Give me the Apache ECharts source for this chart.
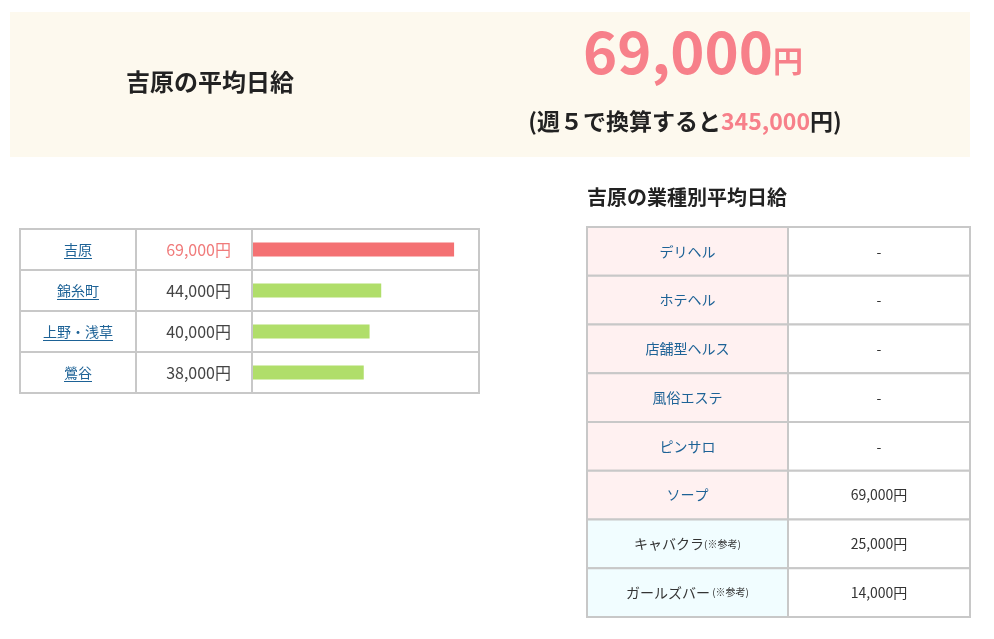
<!DOCTYPE html>
<html>
<head>
<meta charset="utf-8">
<script src="https://cdn.jsdelivr.net/npm/echarts@6/dist/echarts.min.js"></script>
<style>
  html, body { margin: 0; padding: 0; background: #fff; }
  #main { width: 994px; height: 639px; }
</style>
</head>
<body>
<div id="main"></div>
<script>
var areas = ['吉原', '錦糸町', '上野・浅草', '鶯谷'];
var areaPay = [69000, 44000, 40000, 38000];
var areaColors = ['#f47173', '#b0de6a', '#b0de6a', '#b0de6a'];

var jobs = ['デリヘル', 'ホテヘル', '店舗型ヘルス', '風俗エステ', 'ピンサロ', 'ソープ', 'キャバクラ', 'ガールズバー'];
var jobNotes = ['', '', '', '', '', '', '(※参考)', ' (※参考)'];
var jobPay = ['-', '-', '-', '-', '-', '69,000円', '25,000円', '14,000円'];

var FONT = '"Noto Sans CJK JP", sans-serif';
var BORDER = '#c8c8c8';
var LINK = '#1d6296';

function yen(v) { return v.toLocaleString('en-US') + '円'; }

var g = [];
// header banner
g.push({ type: 'rect', shape: { x: 10, y: 12, width: 960, height: 145 }, style: { fill: '#fdf9ee' } });
g.push({ type: 'text', x: 210, y: 82, style: { text: '吉原の平均日給', font: 'bold 24px ' + FONT, fill: '#222', align: 'center', verticalAlign: 'middle' } });
g.push({ type: 'text', x: 693, y: 52, style: {
  text: '{a|69,000}{b|円}', align: 'center', verticalAlign: 'middle',
  rich: { a: { font: 'bold 58px ' + FONT, fill: '#f7808a' }, b: { font: 'bold 30px ' + FONT, fill: '#f7808a', padding: [18, 0, 0, 0] } }
} });
g.push({ type: 'text', x: 685, y: 121, style: {
  text: '{n|(週５で換算すると}{p|345,000}{n|円)}', align: 'center', verticalAlign: 'middle',
  rich: { n: { font: 'bold 23px ' + FONT, fill: '#222' }, p: { font: 'bold 23px ' + FONT, fill: '#f7808a' } }
} });

// left table
var lx = [20, 136, 252, 479], ly0 = 229, lh = 41;
areas.forEach(function (a, i) {
  var y = ly0 + i * lh, cy = y + lh / 2;
  g.push({ type: 'rect', shape: { x: lx[0], y: y, width: lx[3] - lx[0], height: lh }, style: { fill: '#fff', stroke: BORDER, lineWidth: 2 }, z: 0 });
  g.push({ type: 'line', shape: { x1: lx[1], y1: y, x2: lx[1], y2: y + lh }, style: { stroke: BORDER, lineWidth: 2 } });
  g.push({ type: 'line', shape: { x1: lx[2], y1: y, x2: lx[2], y2: y + lh }, style: { stroke: BORDER, lineWidth: 2 } });
  g.push({ type: 'text', x: 78, y: cy, style: { text: a, font: '14px ' + FONT, fill: LINK, align: 'center', verticalAlign: 'middle' } });
  var w = a.length * 14;
  g.push({ type: 'line', shape: { x1: 78 - w / 2, y1: cy + 9, x2: 78 + w / 2, y2: cy + 9 }, style: { stroke: LINK, lineWidth: 1 } });
  g.push({ type: 'text', x: 231, y: cy, style: { text: yen(areaPay[i]), font: '16px ' + FONT, fill: i === 0 ? '#f07a7a' : '#444', align: 'right', verticalAlign: 'middle' } });
});

// right table
g.push({ type: 'text', x: 587, y: 197, style: { text: '吉原の業種別平均日給', font: 'bold 20px ' + FONT, fill: '#222', verticalAlign: 'middle' } });
var rx = [587, 788, 970], ry0 = 227, rh = 48.75;
jobs.forEach(function (j, i) {
  var y = ry0 + i * rh, cy = y + rh / 2;
  g.push({ type: 'rect', shape: { x: rx[0], y: y, width: rx[1] - rx[0], height: rh }, style: { fill: i < 6 ? '#fff1f1' : '#f1fdff', stroke: BORDER, lineWidth: 2 } });
  g.push({ type: 'rect', shape: { x: rx[1], y: y, width: rx[2] - rx[1], height: rh }, style: { fill: '#fff', stroke: BORDER, lineWidth: 2 } });
  g.push({ type: 'text', x: (rx[0] + rx[1]) / 2, y: cy, style: {
    text: '{m|' + j + '}' + (jobNotes[i] ? '{s|' + jobNotes[i] + '}' : ''), align: 'center', verticalAlign: 'middle',
    rich: { m: { font: '14px ' + FONT, fill: i < 6 ? LINK : '#333' }, s: { font: '10px ' + FONT, fill: '#333' } }
  } });
  g.push({ type: 'text', x: (rx[1] + rx[2]) / 2, y: cy, style: { text: jobPay[i], font: '14px ' + FONT, fill: '#333', align: 'center', verticalAlign: 'middle' } });
});

var chart = echarts.init(document.getElementById('main'));
chart.setOption({
  animation: false,
  graphic: { elements: g },
  grid: { left: 253, top: 229, width: 204, height: 164 },
  xAxis: { type: 'value', min: 0, max: 70000, show: false },
  yAxis: { type: 'category', data: areas, inverse: true, show: false },
  series: [{
    type: 'bar', barWidth: 14, z: 10,
    data: areaPay.map(function (v, i) { return { value: v, itemStyle: { color: areaColors[i] } }; })
  }]
});
</script>
</body>
</html>
